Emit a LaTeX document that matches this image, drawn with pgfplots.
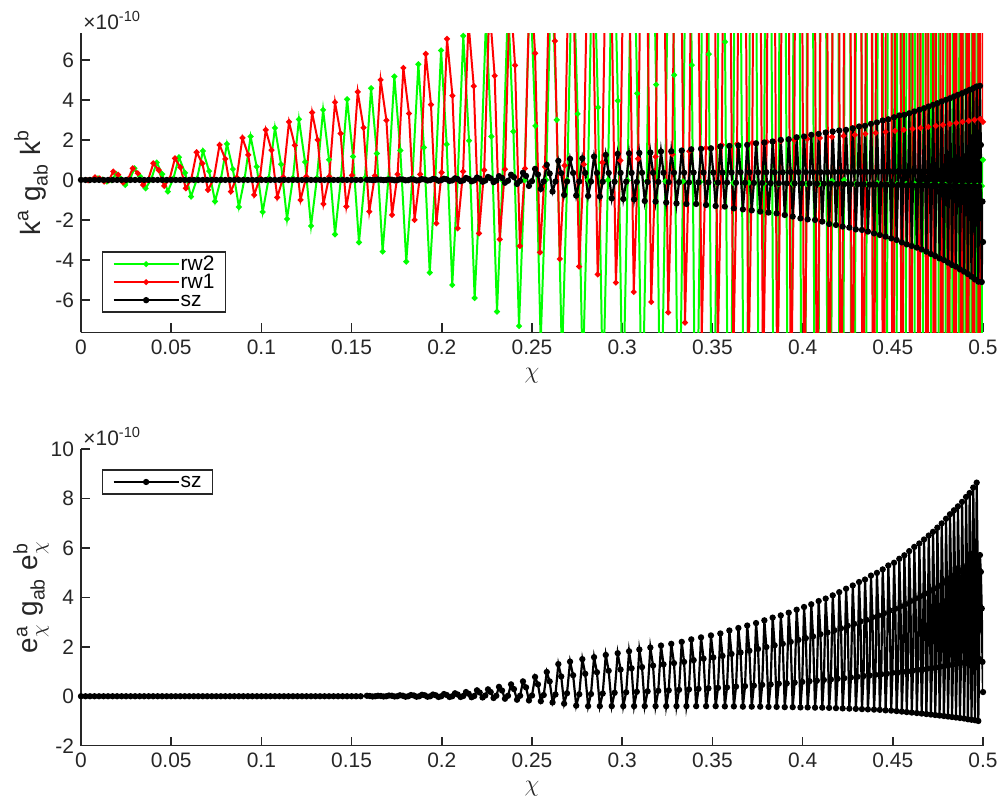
\documentclass[border=0pt]{standalone}
\usepackage{fontspec}
\setmainfont{Liberation Sans}
\usepackage{amsmath}
\usepackage{pgfplots}
\pgfplotsset{compat=1.18}
\definecolor{axgray}{HTML}{262626}
\definecolor{mgreen}{RGB}{0,255,0}
\definecolor{mred}{RGB}{255,0,0}
\pgfplotsset{
  base/.style={
    scale only axis, width=451bp,
    xmin=0, xmax=0.5,
    axis lines*=left,
    axis line style={axgray, line width=0.8pt, -},
    tick align=inside,
    major tick length=4.5bp,
    every tick/.style={axgray, line width=0.8pt},
    xtick={0,0.05,0.1,0.15,0.2,0.25,0.3,0.35,0.4,0.45,0.5},
    xticklabels={0,0.05,0.1,0.15,0.2,0.25,0.3,0.35,0.4,0.45,0.5},
    tick label style={font=\fontsize{10.5}{12}\selectfont, text=axgray},
    every axis x label/.style={at={([yshift=-21.5bp]axis description cs:0.5,0)}, anchor=center, font=\fontsize{12}{14}\selectfont, text=axgray},
    every axis y label/.style={at={([xshift=-25bp]axis description cs:0,0.5)}, rotate=90, anchor=center, font=\fontsize{14}{16}\selectfont, text=axgray},
    xlabel={$\chi$},
    legend cell align=left,
    legend style={draw=axgray, line width=0.8pt, fill=white, font=\fontsize{10.5}{12}\selectfont, inner xsep=5bp, inner ysep=1.5bp, row sep=0pt, nodes={inner ysep=0pt, inner xsep=0.5bp, text height=7.5bp, text depth=1.5bp}},
    legend image code/.code={\draw[mark repeat=2,mark phase=2,#1] plot coordinates {(0bp,0bp) (16.25bp,0bp) (32.5bp,0bp)};},
  },
  ser/.style={line width=1pt, mark=*, mark size=0.9pt, mark options={solid}},
}
\begin{document}
\begin{tikzpicture}
\path[use as bounding box] (0,0) rectangle (500bp,400.5bp);
\begin{axis}[base, name=top, at={(40.5bp,234.25bp)}, anchor=south west, height=149.6bp,
  ymin=-7.62, ymax=7.33, ytick={-6,-4,-2,0,2,4,6}, yticklabels={-6,-4,-2,0,2,4,6},
  ylabel={$\text{k}^{\text{a}}\;\text{g}_{\text{ab}}\;\text{k}^{\text{b}}$},
  legend style={at={(0.023,0.271)}, anchor=north west}]
% rw2
\addplot[ser, mgreen] coordinates {
(0,0) (0.0047,-0.01)
(0.0094,0.08) (0.0119,0.02) (0.0144,-0.08) (0.0169,-0.01)
(0.0194,0.3) (0.0219,0.08) (0.0245,-0.25) (0.0270,0)
(0.0296,0.58) (0.0327,0.18) (0.0358,-0.42) (0.0389,0.03)
(0.0420,0.87) (0.0450,0.29) (0.0481,-0.58) (0.0512,0.07)
(0.0543,1.13) (0.0577,0.35) (0.0610,-0.83) (0.0643,0.05)
(0.0676,1.45) (0.0710,0.44) (0.0743,-1.07) (0.0776,0.06)
(0.0809,1.8) (0.0842,0.54) (0.0875,-1.35) (0.0907,0.07)
(0.0940,2.17) (0.0974,0.66) (0.1007,-1.6) (0.1041,0.1)
(0.1075,2.6) (0.1109,0.78) (0.1142,-1.95) (0.1175,0.1)
(0.1208,3.03) (0.1242,0.9) (0.1275,-2.3) (0.1308,0.1)
(0.1342,3.5) (0.1375,1.01) (0.1408,-2.72) (0.1441,0.08)
(0.1475,4.03) (0.1508,1.17) (0.1541,-3.12) (0.1574,0.1)
(0.1608,4.58) (0.1640,1.32) (0.1672,-3.58) (0.1704,0.09)
(0.1737,5.17) (0.1770,1.47) (0.1803,-4.08) (0.1837,0.08)
(0.1870,5.78) (0.1901,1.62) (0.1933,-4.63) (0.1964,0.05)
(0.1996,6.47) (0.2027,1.78) (0.2058,-5.25) (0.2088,0.02)
(0.2119,7.2) (0.2151,1.96) (0.2182,-5.9) (0.2214,0)
(0.2245,8.0) (0.2275,2.17) (0.2306,-6.58) (0.2336,-0.02)
(0.2367,8.9) (0.2397,2.42) (0.2428,-7.3) (0.2458,-0.01)
(0.2489,9.9) (0.2519,2.7) (0.2548,-8.1) (0.2578,0)
(0.2608,11) (0.2637,3.0) (0.2666,-9) (0.2695,0)
(0.2725,12.1) (0.2753,3.3) (0.2781,-9.9) (0.2810,0)
(0.2838,13.3) (0.2866,3.62) (0.2893,-10.9) (0.2921,-0.01)
(0.2949,14.6) (0.2976,3.96) (0.3003,-12) (0.3030,-0.03)
(0.3057,16) (0.3083,4.32) (0.3110,-13.2) (0.3136,-0.06)
(0.3162,17.6) (0.3188,4.76) (0.3213,-14.5) (0.3239,-0.06)
(0.3264,19.4) (0.3288,5.24) (0.3313,-16) (0.3337,-0.07)
(0.3362,21.3) (0.3386,5.74) (0.3409,-17.6) (0.3433,-0.1)
(0.3457,23.4) (0.3480,6.28) (0.3502,-19.4) (0.3525,-0.14)
(0.3548,25.7) (0.3570,6.9) (0.3593,-21.3) (0.3615,-0.15)
(0.3637,28.3) (0.3659,7.62) (0.3680,-23.4) (0.3702,-0.14)
(0.3723,31) (0.3744,8.32) (0.3765,-25.7) (0.3786,-0.19)
(0.3807,34) (0.3827,9.08) (0.3847,-28.3) (0.3867,-0.2)
(0.3887,37.5) (0.3906,10.1) (0.3926,-31) (0.3945,-0.18)
(0.3965,41) (0.3983,11) (0.4002,-34) (0.4021,-0.2)
(0.4039,45) (0.4057,12) (0.4075,-37.5) (0.4093,-0.2)
(0.4111,50) (0.4129,13.6) (0.4146,-41) (0.4163,-0.05)
(0.4180,55) (0.4197,15) (0.4213,-45) (0.4230,0)
(0.4246,60) (0.4262,16) (0.4278,-50) (0.4293,-0.2)
(0.4309,66) (0.4325,17.6) (0.4340,-55) (0.4355,-0.2)
(0.4370,73) (0.4385,19.8) (0.4399,-60) (0.4414,-0.15)
(0.4429,80) (0.4442,21.6) (0.4456,-66) (0.4470,-0.2)
(0.4484,88) (0.4497,23.6) (0.4510,-73) (0.4523,-0.2)
(0.4537,97) (0.4549,26.2) (0.4562,-80) (0.4574,-0.2)
(0.4586,107) (0.4598,29) (0.4610,-88) (0.4622,-0.2)
(0.4634,117) (0.4646,31.4) (0.4657,-97) (0.4668,-0.25)
(0.4680,129) (0.4690,34.6) (0.4701,-107) (0.4712,-0.25)
(0.4723,142) (0.4733,38.4) (0.4743,-117) (0.4754,-0.25)
(0.4764,156) (0.4774,42) (0.4783,-129) (0.4793,-0.25)
(0.4803,172) (0.4813,46.4) (0.4822,-142) (0.4831,-0.3)
(0.4841,189) (0.4850,51) (0.4859,-156) (0.4868,-0.3)
(0.4877,208) (0.4886,56) (0.4894,-172) (0.4903,-0.3)
(0.4911,229) (0.4920,61.8) (0.4928,-189) (0.4936,-0.3)
(0.4944,252) (0.4952,68) (0.4960,-208) (0.4968,-0.3)
(0.4976,277) (0.4982,74.6) (0.4988,-229) (0.4994,-0.3)
(0.5,1.0)
};
\addlegendentry{rw2}
% rw1
\addplot[ser, mred] coordinates {
(0,0) (0.0039,-0.02)
(0.0078,0.13) (0.0103,0.07) (0.0128,-0.08) (0.0154,-0.02)
(0.0179,0.42) (0.0206,0.26) (0.0233,-0.13) (0.0260,0.03)
(0.0287,0.58) (0.0315,0.33) (0.0344,-0.25) (0.0372,0)
(0.0401,0.83) (0.0431,0.49) (0.0461,-0.3) (0.0491,0.04)
(0.0521,1.08) (0.0551,0.63) (0.0581,-0.42) (0.0611,0.03)
(0.0641,1.38) (0.0673,0.82) (0.0704,-0.5) (0.0736,0.06)
(0.0768,1.75) (0.0800,1.05) (0.0831,-0.58) (0.0863,0.12)
(0.0895,2.1) (0.0927,1.25) (0.0960,-0.75) (0.0992,0.11)
(0.1024,2.5) (0.1056,1.49) (0.1088,-0.87) (0.1121,0.14)
(0.1153,2.9) (0.1185,1.73) (0.1217,-1.0) (0.1249,0.17)
(0.1281,3.37) (0.1312,2.0) (0.1344,-1.2) (0.1376,0.17)
(0.1408,3.88) (0.1439,2.32) (0.1471,-1.33) (0.1502,0.23)
(0.1534,4.4) (0.1566,2.61) (0.1598,-1.58) (0.1629,0.21)
(0.1661,5.0) (0.1693,2.98) (0.1724,-1.75) (0.1755,0.28)
(0.1787,5.6) (0.1818,3.32) (0.1849,-2.0) (0.1880,0.28)
(0.1911,6.3) (0.1940,3.76) (0.1970,-2.17) (0.1999,0.37)
(0.2029,7.05) (0.2059,4.21) (0.2088,-2.42) (0.2118,0.42)
(0.2148,7.85) (0.2177,4.69) (0.2206,-2.67) (0.2235,0.49)
(0.2264,8.7) (0.2293,5.2) (0.2321,-2.97) (0.2350,0.53)
(0.2378,9.6) (0.2406,5.73) (0.2433,-3.3) (0.2461,0.57)
(0.2489,10.6) (0.2517,6.33) (0.2544,-3.62) (0.2572,0.65)
(0.2600,11.6) (0.2627,6.94) (0.2654,-3.95) (0.2681,0.72)
(0.2708,12.7) (0.2734,7.59) (0.2761,-4.33) (0.2787,0.78)
(0.2813,13.9) (0.2839,8.31) (0.2864,-4.72) (0.2890,0.87)
(0.2916,15.2) (0.2941,9.1) (0.2965,-5.13) (0.2990,0.97)
(0.3016,16.6) (0.3040,9.94) (0.3064,-5.6) (0.3088,1.06)
(0.3113,18.1) (0.3137,10.84) (0.3161,-6.1) (0.3185,1.16)
(0.3210,19.7) (0.3232,11.8) (0.3255,-6.62) (0.3278,1.28)
(0.3301,21.4) (0.3325,12.84) (0.3348,-7.13) (0.3372,1.43)
(0.3395,23.3) (0.3418,14.0) (0.3441,-7.7) (0.3464,1.6)
(0.3487,25.4) (0.3509,15.29) (0.3530,-8.3) (0.3552,1.75)
(0.3574,27.4) (0.3595,16.48) (0.3616,-9.0) (0.3637,1.8)
(0.3659,29.6) (0.3679,17.81) (0.3700,-9.7) (0.3721,1.85)
(0.3742,32) (0.3761,19.25) (0.3781,-10.5) (0.3801,1.9)
(0.3820,34.5) (0.3840,20.76) (0.3859,-11.3) (0.3879,1.95)
(0.3898,37.3) (0.3917,22.45) (0.3935,-12.2) (0.3954,2.0)
(0.3973,40.3) (0.3991,24.25) (0.4009,-13.2) (0.4026,2.05)
(0.4044,43.5) (0.4062,26.16) (0.4079,-14.3) (0.4096,2.1)
(0.4113,47) (0.4130,28.28) (0.4146,-15.4) (0.4163,2.15)
(0.4180,50.8) (0.4196,30.58) (0.4211,-16.6) (0.4227,2.2)
(0.4243,54.8) (0.4259,32.96) (0.4274,-18) (0.4289,2.25)
(0.4304,59.2) (0.4319,35.62) (0.4333,-19.4) (0.4348,2.3)
(0.4363,64) (0.4377,38.5) (0.4391,-21) (0.4405,2.35)
(0.4419,69) (0.4433,41.52) (0.4446,-22.6) (0.4460,2.4)
(0.4473,74.5) (0.4486,44.83) (0.4499,-24.4) (0.4512,2.45)
(0.4525,80.5) (0.4537,48.43) (0.4549,-26.4) (0.4561,2.5)
(0.4573,87) (0.4585,52.35) (0.4597,-28.5) (0.4609,2.55)
(0.4620,94) (0.4631,56.56) (0.4642,-30.8) (0.4654,2.6)
(0.4665,101) (0.4675,60.8) (0.4686,-33) (0.4697,2.65)
(0.4707,109) (0.4718,65.5) (0.4728,-36) (0.4738,2.7)
(0.4748,118) (0.4758,70.9) (0.4768,-39) (0.4778,2.75)
(0.4788,127) (0.4797,76.3) (0.4806,-42) (0.4816,2.8)
(0.4825,137) (0.4834,82.4) (0.4843,-45) (0.4852,2.85)
(0.4861,148) (0.4870,88.9) (0.4879,-49) (0.4887,2.9)
(0.4896,160) (0.4904,96.1) (0.4912,-53) (0.4921,2.95)
(0.4929,173) (0.4937,104) (0.4945,-57) (0.4953,3.0)
(0.4961,187) (0.4969,112.6) (0.4977,-61) (0.4984,3.05)
(0.4992,200) (0.5,2.9)
};
\addlegendentry{rw1}
% sz
\addplot[ser, black, line width=1.1pt, mark size=1pt] coordinates {
(0,0) (0.0025,0) (0.005,0) (0.0075,0) (0.01,0) (0.0125,0) (0.015,0) (0.0175,0) (0.02,0) (0.0225,0)
(0.025,0) (0.0275,0) (0.03,0) (0.0325,0) (0.035,0) (0.0375,0) (0.04,0) (0.0425,0) (0.045,0) (0.0475,0)
(0.05,0) (0.0525,0) (0.055,0) (0.0575,0) (0.06,0) (0.0625,0) (0.065,0) (0.0675,0) (0.07,0) (0.0725,0)
(0.075,0) (0.0775,0) (0.08,0) (0.0825,0) (0.085,0) (0.0875,0) (0.09,0) (0.0925,0) (0.095,0) (0.0975,0)
(0.1,0) (0.1025,0) (0.105,0) (0.1075,0) (0.11,0) (0.1125,0) (0.115,0) (0.1175,0) (0.12,0) (0.1225,0)
(0.125,0) (0.1275,0) (0.13,0) (0.1325,0) (0.135,0) (0.1375,0) (0.14,0) (0.1425,0) (0.145,0) (0.1475,0)
(0.15,0) (0.1525,0) (0.155,0)
(0.1585,0.01) (0.1601,0.01) (0.1616,-0.01) (0.1631,0)
(0.1646,0.02) (0.1662,0.01) (0.1677,-0.01) (0.1692,0)
(0.1707,0.02) (0.1723,0.01) (0.1738,-0.02) (0.1753,-0.01)
(0.1768,0.03) (0.1784,0.02) (0.1799,-0.02) (0.1814,-0.01)
(0.1829,0.03) (0.1845,0.02) (0.1860,-0.03) (0.1875,-0.01)
(0.1890,0.04) (0.1905,0.02) (0.1921,-0.03) (0.1936,-0.01)
(0.1951,0.05) (0.1966,0.03) (0.1982,-0.04) (0.1997,-0.01)
(0.2012,0.06) (0.2027,0.03) (0.2043,-0.05) (0.2058,-0.02)
(0.2073,0.08) (0.2088,0.04) (0.2104,-0.06) (0.2119,-0.02)
(0.2134,0.10) (0.2149,0.05) (0.2165,-0.07) (0.2180,-0.02)
(0.2195,0.12) (0.2210,0.06) (0.2226,-0.09) (0.2241,-0.03)
(0.2256,0.15) (0.2271,0.08) (0.2287,-0.11) (0.2302,-0.03)
(0.2317,0.19) (0.2334,0.10) (0.2350,-0.14) (0.2367,-0.04)
(0.2384,0.26) (0.2400,0.14) (0.2417,-0.2) (0.2434,-0.05)
(0.2450,0.36) (0.2467,0.2) (0.2483,-0.3) (0.2500,-0.06)
(0.2517,0.55) (0.2533,0.27) (0.2549,-0.45) (0.2565,-0.07)
(0.2582,0.75) (0.2598,0.32) (0.2614,-0.58) (0.2630,-0.08)
(0.2646,0.95) (0.2662,0.34) (0.2678,-0.75) (0.2694,-0.08)
(0.2711,1.05) (0.2728,0.35) (0.2745,-0.78) (0.2762,-0.08)
(0.2779,1.08) (0.2795,0.35) (0.2811,-0.8) (0.2827,-0.08)
(0.2844,1.17) (0.2860,0.35) (0.2876,-0.83) (0.2892,-0.09)
(0.2909,1.25) (0.2925,0.35) (0.2942,-0.92) (0.2958,-0.09)
(0.2975,1.3) (0.2991,0.35) (0.3006,-0.95) (0.3022,-0.09)
(0.3038,1.33) (0.3052,0.35) (0.3066,-0.97) (0.3081,-0.1)
(0.3095,1.35) (0.3110,0.36) (0.3125,-1.05) (0.3141,-0.1)
(0.3156,1.37) (0.3171,0.36) (0.3185,-1.08) (0.3200,-0.1)
(0.3215,1.42) (0.3229,0.36) (0.3244,-1.13) (0.3258,-0.11)
(0.3272,1.43) (0.3287,0.36) (0.3301,-1.17) (0.3315,-0.11)
(0.3330,1.47) (0.3343,0.36) (0.3356,-1.2) (0.3370,-0.12)
(0.3383,1.53) (0.3396,0.37) (0.3410,-1.2) (0.3423,-0.12)
(0.3437,1.55) (0.3451,0.37) (0.3465,-1.25) (0.3478,-0.12)
(0.3492,1.58) (0.3505,0.37) (0.3518,-1.3) (0.3531,-0.13)
(0.3544,1.67) (0.3556,0.37) (0.3569,-1.33) (0.3581,-0.13)
(0.3594,1.7) (0.3606,0.37) (0.3619,-1.42) (0.3631,-0.14)
(0.3644,1.72) (0.3656,0.38) (0.3669,-1.47) (0.3681,-0.14)
(0.3693,1.75) (0.3705,0.38) (0.3718,-1.52) (0.3730,-0.15)
(0.3742,1.83) (0.3753,0.38) (0.3765,-1.58) (0.3776,-0.15)
(0.3788,1.87) (0.3799,0.38) (0.3811,-1.63) (0.3823,-0.16)
(0.3834,1.92) (0.3845,0.38) (0.3856,-1.67) (0.3868,-0.16)
(0.3879,2.0) (0.3890,0.38) (0.3901,-1.75) (0.3912,-0.17)
(0.3923,2.03) (0.3934,0.39) (0.3945,-1.83) (0.3956,-0.17)
(0.3967,2.13) (0.3977,0.39) (0.3988,-1.92) (0.3998,-0.18)
(0.4008,2.17) (0.4018,0.39) (0.4028,-1.97) (0.4038,-0.18)
(0.4048,2.25) (0.4058,0.39) (0.4069,-2.0) (0.4079,-0.19)
(0.4089,2.3) (0.4099,0.39) (0.4109,-2.08) (0.4118,-0.19)
(0.4128,2.37) (0.4138,0.39) (0.4147,-2.2) (0.4157,-0.2)
(0.4167,2.42) (0.4176,0.4) (0.4185,-2.25) (0.4194,-0.2)
(0.4203,2.47) (0.4213,0.4) (0.4222,-2.33) (0.4231,-0.21)
(0.4241,2.5) (0.4250,0.4) (0.4259,-2.38) (0.4268,-0.21)
(0.4278,2.58) (0.4286,0.4) (0.4295,-2.47) (0.4304,-0.22)
(0.4313,2.67) (0.4321,0.4) (0.4329,-2.5) (0.4338,-0.22)
(0.4346,2.7) (0.4354,0.4) (0.4362,-2.58) (0.4371,-0.23)
(0.4379,2.8) (0.4387,0.4) (0.4396,-2.67) (0.4404,-0.23)
(0.4412,2.87) (0.4420,0.41) (0.4428,-2.75) (0.4436,-0.24)
(0.4444,2.97) (0.4452,0.41) (0.4460,-2.83) (0.4467,-0.24)
(0.4475,3.03) (0.4483,0.41) (0.4491,-2.92) (0.4498,-0.25)
(0.4507,3.13) (0.4514,0.41) (0.4521,-3.0) (0.4529,-0.25)
(0.4536,3.22) (0.4543,0.41) (0.4550,-3.12) (0.4557,-0.26)
(0.4564,3.25) (0.4571,0.41) (0.4577,-3.22) (0.4584,-0.26)
(0.4591,3.33) (0.4598,0.41) (0.4605,-3.3) (0.4612,-0.27)
(0.4619,3.42) (0.4626,0.42) (0.4633,-3.38) (0.4640,-0.27)
(0.4647,3.5) (0.4653,0.42) (0.4660,-3.47) (0.4666,-0.28)
(0.4673,3.58) (0.4679,0.42) (0.4686,-3.58) (0.4692,-0.28)
(0.4699,3.67) (0.4705,0.42) (0.4711,-3.7) (0.4717,-0.29)
(0.4723,3.75) (0.4729,0.42) (0.4735,-3.8) (0.4741,-0.29)
(0.4747,3.83) (0.4753,0.42) (0.4759,-3.92) (0.4765,-0.3)
(0.4771,3.92) (0.4777,0.42) (0.4783,-4.0) (0.4789,-0.3)
(0.4795,4.0) (0.4800,0.42) (0.4806,-4.13) (0.4811,-0.31)
(0.4817,4.08) (0.4823,0.42) (0.4828,-4.25) (0.4834,-0.31)
(0.4839,4.17) (0.4845,0.42) (0.4850,-4.33) (0.4856,-0.32)
(0.4861,4.25) (0.4867,0.42) (0.4872,-4.47) (0.4878,-0.32)
(0.4884,4.33) (0.4889,0.42) (0.4895,-4.58) (0.4900,-0.33)
(0.4906,4.42) (0.4911,0.42) (0.4916,-4.7) (0.4921,-0.33)
(0.4926,4.5) (0.4931,0.42) (0.4936,-4.83) (0.4941,-0.33)
(0.4946,4.58) (0.4951,0.42) (0.4955,-4.97) (0.4960,-0.33)
(0.4965,4.67) (0.4970,0.42) (0.4974,-5.08) (0.4979,-0.33)
(0.4983,4.7) (0.4988,1.75) (0.4993,-5.1) (0.4997,-1.08) (0.5,-3.1)
};
\addlegendentry{sz}
\end{axis}
\node[anchor=base west, inner sep=0pt, font=\fontsize{10.5}{12}\selectfont, text=axgray] at ([xshift=1bp,yshift=1.7bp]top.north west) {×10\textsuperscript{-10}};

\begin{axis}[base, name=bot, at={(40.5bp,27.65bp)}, anchor=south west, height=148.35bp,
  ymin=-2, ymax=10, ytick={-2,0,2,4,6,8,10}, yticklabels={-2,0,2,4,6,8,10},
  ylabel={$\text{e}^{\text{a}}_{\chi}\;\text{g}_{\text{ab}}\;\text{e}^{\text{b}}_{\chi}$},
  legend style={at={(0.023,0.932)}, anchor=north west}]
\addplot[ser, black, line width=1.1pt, mark size=1pt] coordinates {
(0,0) (0.0025,0) (0.005,0) (0.0075,0) (0.01,0) (0.0125,0) (0.015,0) (0.0175,0) (0.02,0) (0.0225,0)
(0.025,0) (0.0275,0) (0.03,0) (0.0325,0) (0.035,0) (0.0375,0) (0.04,0) (0.0425,0) (0.045,0) (0.0475,0)
(0.05,0) (0.0525,0) (0.055,0) (0.0575,0) (0.06,0) (0.0625,0) (0.065,0) (0.0675,0) (0.07,0) (0.0725,0)
(0.075,0) (0.0775,0) (0.08,0) (0.0825,0) (0.085,0) (0.0875,0) (0.09,0) (0.0925,0) (0.095,0) (0.0975,0)
(0.1,0) (0.1025,0) (0.105,0) (0.1075,0) (0.11,0) (0.1125,0) (0.115,0) (0.1175,0) (0.12,0) (0.1225,0)
(0.125,0) (0.1275,0) (0.13,0) (0.1325,0) (0.135,0) (0.1375,0) (0.14,0) (0.1425,0) (0.145,0) (0.1475,0)
(0.15,0) (0.1525,0) (0.155,0)
(0.1585,0.02) (0.1601,0.01) (0.1616,-0.01) (0.1631,0)
(0.1646,0.02) (0.1662,0.01) (0.1677,-0.01) (0.1692,0)
(0.1707,0.03) (0.1723,0.02) (0.1738,-0.01) (0.1753,0)
(0.1768,0.04) (0.1784,0.02) (0.1799,-0.02) (0.1814,0)
(0.1829,0.05) (0.1845,0.03) (0.1860,-0.02) (0.1875,0)
(0.1890,0.06) (0.1905,0.04) (0.1921,-0.02) (0.1936,0)
(0.1951,0.07) (0.1966,0.04) (0.1982,-0.03) (0.1997,0)
(0.2012,0.09) (0.2027,0.05) (0.2043,-0.03) (0.2058,0)
(0.2073,0.12) (0.2088,0.07) (0.2104,-0.03) (0.2119,0.01)
(0.2134,0.17) (0.2149,0.1) (0.2165,-0.04) (0.2180,0.01)
(0.2195,0.24) (0.2210,0.15) (0.2226,-0.05) (0.2241,0.03)
(0.2256,0.28) (0.2271,0.17) (0.2287,-0.07) (0.2302,0.02)
(0.2317,0.38) (0.2334,0.23) (0.2350,-0.1) (0.2367,0.02)
(0.2384,0.48) (0.2400,0.29) (0.2417,-0.14) (0.2434,0.02)
(0.2450,0.6) (0.2467,0.36) (0.2483,-0.17) (0.2500,0.03)
(0.2517,0.78) (0.2533,0.48) (0.2549,-0.2) (0.2565,0.05)
(0.2582,0.98) (0.2598,0.6) (0.2614,-0.25) (0.2630,0.07)
(0.2646,1.3) (0.2662,0.8) (0.2678,-0.3) (0.2694,0.12)
(0.2711,1.4) (0.2728,0.85) (0.2745,-0.38) (0.2762,0.08)
(0.2779,1.5) (0.2795,0.91) (0.2811,-0.4) (0.2827,0.09)
(0.2844,1.58) (0.2860,0.97) (0.2876,-0.4) (0.2892,0.11)
(0.2909,1.67) (0.2925,1.03) (0.2942,-0.4) (0.2958,0.14)
(0.2975,1.74) (0.2991,1.08) (0.3006,-0.4) (0.3022,0.16)
(0.3038,1.82) (0.3052,1.13) (0.3066,-0.4) (0.3081,0.18)
(0.3095,1.89) (0.3110,1.18) (0.3125,-0.4) (0.3141,0.2)
(0.3156,1.97) (0.3171,1.24) (0.3185,-0.4) (0.3200,0.22)
(0.3215,2.05) (0.3229,1.29) (0.3244,-0.4) (0.3258,0.24)
(0.3272,2.12) (0.3287,1.34) (0.3301,-0.4) (0.3315,0.26)
(0.3330,2.2) (0.3343,1.39) (0.3356,-0.4) (0.3370,0.28)
(0.3383,2.3) (0.3396,1.46) (0.3410,-0.4) (0.3423,0.3)
(0.3437,2.38) (0.3451,1.52) (0.3465,-0.4) (0.3478,0.32)
(0.3492,2.46) (0.3505,1.57) (0.3518,-0.4) (0.3531,0.34)
(0.3544,2.54) (0.3556,1.63) (0.3569,-0.41) (0.3581,0.36)
(0.3594,2.66) (0.3606,1.71) (0.3619,-0.41) (0.3631,0.39)
(0.3644,2.76) (0.3656,1.77) (0.3669,-0.42) (0.3681,0.41)
(0.3693,2.86) (0.3705,1.84) (0.3718,-0.42) (0.3730,0.43)
(0.3742,2.96) (0.3753,1.91) (0.3765,-0.42) (0.3776,0.46)
(0.3788,3.07) (0.3799,1.99) (0.3811,-0.43) (0.3823,0.48)
(0.3834,3.18) (0.3845,2.06) (0.3856,-0.43) (0.3868,0.51)
(0.3879,3.27) (0.3890,2.12) (0.3901,-0.44) (0.3912,0.52)
(0.3923,3.38) (0.3934,2.2) (0.3945,-0.44) (0.3956,0.55)
(0.3967,3.5) (0.3977,2.28) (0.3988,-0.45) (0.3998,0.58)
(0.4008,3.61) (0.4018,2.35) (0.4028,-0.45) (0.4038,0.61)
(0.4048,3.72) (0.4058,2.42) (0.4069,-0.46) (0.4079,0.63)
(0.4089,3.85) (0.4099,2.51) (0.4109,-0.46) (0.4118,0.66)
(0.4128,3.95) (0.4138,2.58) (0.4147,-0.47) (0.4157,0.68)
(0.4167,4.08) (0.4176,2.67) (0.4185,-0.48) (0.4194,0.71)
(0.4203,4.21) (0.4213,2.75) (0.4222,-0.49) (0.4231,0.73)
(0.4241,4.35) (0.4250,2.85) (0.4259,-0.5) (0.4268,0.76)
(0.4278,4.48) (0.4286,2.93) (0.4295,-0.51) (0.4304,0.79)
(0.4313,4.62) (0.4321,3.03) (0.4329,-0.52) (0.4338,0.82)
(0.4346,4.72) (0.4354,3.09) (0.4362,-0.53) (0.4371,0.84)
(0.4379,4.88) (0.4387,3.2) (0.4396,-0.54) (0.4404,0.87)
(0.4412,4.99) (0.4420,3.27) (0.4428,-0.55) (0.4436,0.89)
(0.4444,5.13) (0.4452,3.36) (0.4460,-0.57) (0.4467,0.91)
(0.4475,5.29) (0.4483,3.47) (0.4491,-0.58) (0.4498,0.95)
(0.4507,5.4) (0.4514,3.54) (0.4521,-0.6) (0.4529,0.96)
(0.4536,5.56) (0.4543,3.64) (0.4550,-0.62) (0.4557,0.99)
(0.4564,5.7) (0.4571,3.73) (0.4577,-0.64) (0.4584,1.01)
(0.4591,5.87) (0.4598,3.85) (0.4605,-0.66) (0.4612,1.04)
(0.4619,6.04) (0.4626,3.96) (0.4633,-0.68) (0.4640,1.07)
(0.4647,6.18) (0.4653,4.05) (0.4660,-0.7) (0.4666,1.09)
(0.4673,6.34) (0.4679,4.15) (0.4686,-0.72) (0.4692,1.12)
(0.4699,6.5) (0.4705,4.26) (0.4711,-0.74) (0.4717,1.14)
(0.4723,6.65) (0.4729,4.35) (0.4735,-0.76) (0.4741,1.17)
(0.4747,6.82) (0.4753,4.46) (0.4759,-0.78) (0.4765,1.2)
(0.4771,6.99) (0.4777,4.58) (0.4783,-0.8) (0.4789,1.23)
(0.4795,7.18) (0.4800,4.7) (0.4806,-0.82) (0.4811,1.26)
(0.4817,7.36) (0.4823,4.82) (0.4828,-0.84) (0.4834,1.29)
(0.4839,7.52) (0.4845,4.92) (0.4850,-0.86) (0.4856,1.32)
(0.4861,7.68) (0.4867,5.03) (0.4872,-0.88) (0.4878,1.35)
(0.4884,7.86) (0.4889,5.14) (0.4895,-0.9) (0.4900,1.38)
(0.4906,8.06) (0.4911,5.27) (0.4916,-0.93) (0.4921,1.41)
(0.4926,8.22) (0.4931,5.38) (0.4936,-0.95) (0.4941,1.43)
(0.4946,8.44) (0.4951,5.52) (0.4955,-0.97) (0.4960,1.48)
(0.4965,8.64) (0.4970,5.65) (0.4974,-1.0) (0.4979,1.51)
(0.4983,5.71) (0.4988,5.03) (0.4993,3.55) (0.4997,1.39) (0.5,0.17)
};
\addlegendentry{sz\hspace{6.4bp}}
\end{axis}
\node[anchor=base west, inner sep=0pt, font=\fontsize{10.5}{12}\selectfont, text=axgray] at ([xshift=1bp,yshift=1.7bp]bot.north west) {×10\textsuperscript{-10}};
\end{tikzpicture}
\end{document}
